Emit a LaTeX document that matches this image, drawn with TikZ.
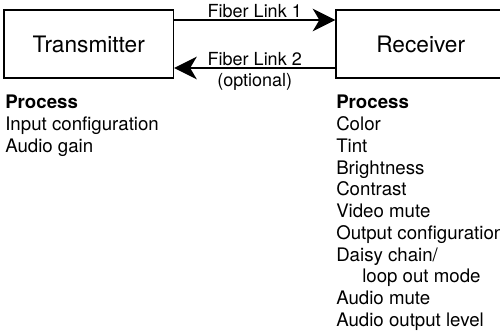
\documentclass[tikz,border=0pt]{standalone}
\usepackage{fontspec}
\setmainfont{TeX Gyre Heros}
\usetikzlibrary{arrows.meta}

\begin{document}
\begin{tikzpicture}[x=0.75pt,y=-0.75pt,
  unit/.style={draw, line width=1pt, minimum width=127pt, minimum height=51pt, font=\fontsize{17}{20}\selectfont},
  link/.style={line width=1.5pt, -{Stealth[length=17pt,width=17pt,inset=5pt]}},
  tag/.style={font=\fontsize{13.5}{15}\selectfont},
  list/.style={anchor=north west, inner sep=0pt, align=left, font=\fontsize{14}{16.3}\selectfont}]
% Fix the frame of the picture
\path [use as bounding box, clip] (0,0) rectangle (500,335);
% Draw the two units
\node [unit] (tx) at (88.8,44) {Transmitter};
\node [unit] (rx) at (420.7,44) {Receiver};
% Draw the two fiber links between them
\draw [link] ([yshift=18pt]tx.east) -- node [tag, above, inner sep=1pt] (l1) {Fiber Link 1} ([yshift=18pt]rx.west);
\draw [link] ([yshift=-18pt]rx.west) -- node [tag, above, inner sep=1pt] (l2) {Fiber Link 2}
  node [tag, below, inner sep=3pt] (opt) {(optional)} ([yshift=-18pt]tx.east);
% Lists of what each unit processes
\node [list] (txlist) at (5,95) {\textbf{Process}\\Input configuration\\Audio gain};
\node [list] (rxlist) at (336,95) {\textbf{Process}\\Color\\Tint\\Brightness\\Contrast\\Video mute\\Output configuration\\Daisy chain/\\\hspace*{19.5pt}loop out mode\\Audio mute\\Audio output level};
\end{tikzpicture}
\end{document}
